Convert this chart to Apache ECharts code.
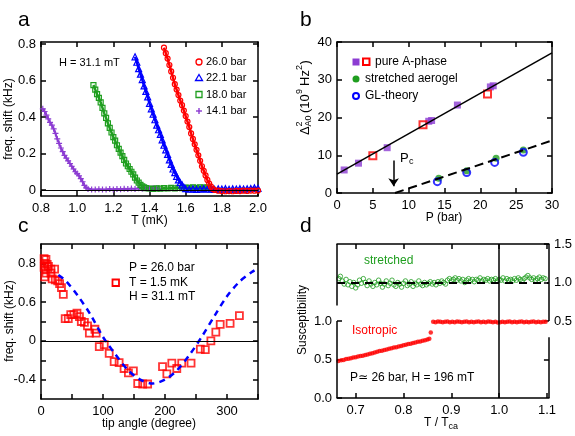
<!DOCTYPE html>
<html lang="en">
<head>
<meta charset="UTF-8">
<title>A-phase in aerogel</title>
<script src="https://cdn.jsdelivr.net/npm/echarts@6/dist/echarts.min.js"></script>
<style>
  html, body { margin: 0; padding: 0; background: #fff; }
  #main { width: 575px; height: 436px; }
</style>
</head>
<body>
<div id="main"></div>
<script>
var FONT = '"Liberation Sans", Arial, "DejaVu Sans", sans-serif';
var RED = '#ff0000', BLUE = '#0000ff', GREEN = '#1f9e1f', PURPLE = '#8c3cd2';
var NONE = 'rgba(0,0,0,0)';

// ---- panel a: freq. shift vs T ----
var aTicksX = [0.8, 1.0, 1.2, 1.4, 1.6, 1.8, 2.0];
var aTicksY = [0, 0.2, 0.4, 0.6, 0.8];
var aNames = ['26.0 bar', '22.1 bar', '18.0 bar', '14.1 bar'];
var a26 = [[1.48,0.78],[1.49,0.75],[1.50,0.72],[1.51,0.685],[1.52,0.65],[1.53,0.615],[1.54,0.58],[1.55,0.55],[1.56,0.52],[1.57,0.49],[1.58,0.465],[1.59,0.435],[1.60,0.405],[1.61,0.375],[1.62,0.345],[1.63,0.31],[1.64,0.28],[1.65,0.25],[1.66,0.22],[1.67,0.19],[1.68,0.16],[1.69,0.13],[1.70,0.105],[1.71,0.08],[1.72,0.055],[1.73,0.035],[1.74,0.018],[1.75,0.006],[1.76,0.0],[1.78,-0.004],[1.80,-0.006],[1.82,-0.007],[1.84,-0.006],[1.86,-0.007],[1.88,-0.005],[1.90,-0.006],[1.92,-0.004],[1.94,-0.005],[1.96,-0.003],[1.98,-0.004],[2.0,-0.003]];
var a22 = [[1.32,0.73],[1.33,0.70],[1.34,0.665],[1.35,0.635],[1.36,0.605],[1.37,0.57],[1.38,0.54],[1.39,0.51],[1.40,0.475],[1.41,0.445],[1.42,0.415],[1.43,0.385],[1.44,0.355],[1.45,0.33],[1.46,0.305],[1.47,0.275],[1.48,0.245],[1.49,0.22],[1.50,0.195],[1.51,0.165],[1.52,0.14],[1.53,0.115],[1.54,0.095],[1.55,0.075],[1.56,0.055],[1.57,0.04],[1.58,0.028],[1.59,0.015],[1.60,0.007],[1.62,0.004],[1.64,0.006],[1.66,0.003],[1.68,0.005],[1.70,0.007],[1.72,0.004],[1.74,0.006],[1.76,0.003],[1.78,0.006],[1.80,0.005],[1.82,0.007],[1.84,0.004],[1.86,0.006],[1.88,0.005],[1.90,0.007],[1.92,0.005],[1.94,0.006],[1.96,0.008],[1.98,0.012],[2.0,0.009]];
var a18 = [[1.09,0.575],[1.10,0.55],[1.11,0.525],[1.12,0.505],[1.13,0.48],[1.14,0.45],[1.15,0.42],[1.16,0.395],[1.17,0.365],[1.18,0.34],[1.19,0.315],[1.20,0.29],[1.21,0.27],[1.22,0.245],[1.23,0.225],[1.24,0.205],[1.25,0.185],[1.26,0.165],[1.27,0.145],[1.28,0.13],[1.29,0.115],[1.30,0.1],[1.31,0.085],[1.32,0.068],[1.33,0.052],[1.34,0.04],[1.35,0.028],[1.36,0.02],[1.37,0.014],[1.38,0.01],[1.40,0.008],[1.42,0.006],[1.44,0.009],[1.46,0.007],[1.48,0.01],[1.50,0.008],[1.52,0.011],[1.54,0.009],[1.56,0.012],[1.58,0.01],[1.60,0.013],[1.62,0.011],[1.64,0.014],[1.66,0.012],[1.68,0.015],[1.70,0.013],[1.72,0.014]];
var a14 = [[0.81,0.445],[0.82,0.43],[0.83,0.41],[0.84,0.39],[0.85,0.37],[0.86,0.355],[0.87,0.335],[0.88,0.31],[0.89,0.28],[0.90,0.255],[0.91,0.23],[0.92,0.21],[0.93,0.19],[0.94,0.175],[0.95,0.16],[0.96,0.145],[0.97,0.13],[0.98,0.115],[0.99,0.1],[1.00,0.09],[1.01,0.078],[1.02,0.062],[1.03,0.045],[1.04,0.025],[1.05,0.012],[1.06,0.006],[1.08,0.003],[1.10,0.002],[1.12,0.004],[1.14,0.002],[1.16,0.003],[1.18,0.005],[1.20,0.003],[1.22,0.006],[1.24,0.004],[1.26,0.007],[1.28,0.005],[1.30,0.008],[1.32,0.006],[1.34,0.009],[1.36,0.007],[1.38,0.01],[1.40,0.008],[1.42,0.011],[1.44,0.009],[1.45,0.008]];

// ---- panel b: gap^2 vs pressure ----
var bTicksX = [0, 5, 10, 15, 20, 25, 30];
var bTicksY = [0, 10, 20, 30, 40];
var bPureFilled = [[1.0,6.1],[3.0,7.9],[7.0,12.0],[12.8,19.0],[13.2,19.2],[16.8,23.3],[21.4,28.1],[21.8,28.4]];
var bPureOpen = [[5.0,9.9],[12.0,18.1],[21.0,26.2]];
var bStretched = [[14.2,3.9],[18.1,5.9],[22.2,9.2],[26.0,11.4]];
var bGL = [[14.0,3.0],[18.1,5.4],[22.0,8.1],[26.0,10.8]];
var bFitPure = [[0,5.0],[30,37.1]];
var bFitStretched = [[8.1,0],[30,13.9]];
var bPc = 7.9;

// ---- panel c: freq. shift vs tip angle ----
var cTicksX = [0, 50, 100, 150, 200, 250, 300, 350];
var cLabelsX = [0, 100, 200, 300];
var cTicksY = [-0.4, -0.2, 0, 0.2, 0.4, 0.6, 0.8];
var cLabelsY = [-0.4, 0, 0.4, 0.8];
var cLabelText = { '-0.4': '-0.4', '0.0': '0', '0.4': '0.6', '0.8': '0.8' };
var cData = [[5,0.85],[8,0.84],[6,0.80],[10,0.79],[5,0.76],[12,0.77],[7,0.74],[16,0.74],[22,0.74],[8,0.70],[16,0.70],[6,0.66],[18,0.64],[23,0.63],[27,0.62],[30,0.59],[33,0.55],[36,0.48],
  [39,0.23],[44,0.23],[48,0.27],[53,0.27],[58,0.285],[62,0.25],[65,0.20],[70,0.19],[75,0.155],[78,0.08],[87,0.12],[89,0.08],[94,-0.06],[102,-0.04],[110,-0.13],[118,-0.215],[126,-0.225],[134,-0.285],[141,-0.33],[149,-0.31],[156,-0.44],[164,-0.445],[172,-0.445],
  [196,-0.265],[203,-0.34],[211,-0.23],[219,-0.285],[227,-0.23],[242,-0.23],[257,-0.085],[265,-0.09],[274,0.0],[282,0.09],[289,0.17],[305,0.18],[320,0.26]];
var cTheory = [[28,0.68],[40,0.62],[60,0.46],[80,0.27],[100,0.04],[120,-0.14],[140,-0.30],[160,-0.40],[180,-0.44],[200,-0.40],[220,-0.30],[240,-0.14],[260,0.05],[280,0.26],[300,0.46],[320,0.61],[340,0.71],[350,0.75]];

// ---- panel d: susceptibility vs T/Tca ----
var dXMin = 0.661, dXMax = 1.104;
var dTicksX = [0.7, 0.8, 0.9, 1.0, 1.1];
var dTicksL = [0, 0.5, 1.0];
var dTicksR = [0, 0.5, 1.0, 1.5];
var dLabelsR = [0.5, 1.0, 1.5];
var dIsoRamp = [[0.664,0.48],[0.67,0.49],[0.675,0.495],[0.68,0.505],[0.685,0.51],[0.69,0.515],[0.695,0.525],[0.70,0.53],[0.705,0.54],[0.71,0.545],[0.715,0.55],[0.72,0.56],[0.725,0.565],[0.73,0.575],[0.735,0.58],[0.74,0.59],[0.745,0.60],[0.75,0.61],[0.755,0.615],[0.76,0.625],[0.765,0.63],[0.77,0.64],[0.775,0.645],[0.78,0.655],[0.785,0.66],[0.79,0.67],[0.795,0.675],[0.80,0.685],[0.805,0.69],[0.81,0.70],[0.815,0.705],[0.82,0.715],[0.825,0.72],[0.83,0.73],[0.835,0.735],[0.84,0.745],[0.845,0.75],[0.85,0.76],[0.854,0.77],[0.857,0.85]];
var dIsoFlat = [[0.862,0.99],[0.867,0.985],[0.872,0.995],[0.877,0.99],[0.882,0.985],[0.887,0.99],[0.892,0.995],[0.897,0.985],[0.902,0.99],[0.907,0.985],[0.912,0.995],[0.917,0.99],[0.922,0.985],[0.927,0.99],[0.932,0.995],[0.937,0.985],[0.942,0.99],[0.947,0.985],[0.952,0.99],[0.957,0.995],[0.962,0.985],[0.967,0.99],[0.972,0.985],[0.977,0.995],[0.982,0.99],[0.987,0.985],[0.992,0.99],[0.997,0.98],[1.002,0.985],[1.007,0.99],[1.012,0.985],[1.017,0.99],[1.022,0.995],[1.027,0.985],[1.032,0.99],[1.037,0.985],[1.042,0.99],[1.047,0.995],[1.052,0.985],[1.057,0.99],[1.062,0.985],[1.067,0.99],[1.072,0.995],[1.077,0.985],[1.082,0.99],[1.087,0.985],[1.092,0.99],[1.097,0.99]];
var dStretched = [[0.665,1.05],[0.668,1.08],[0.672,1.02],[0.676,0.98],[0.68,1.04],[0.684,0.97],[0.688,1.01],[0.692,0.95],[0.696,1.0],[0.70,0.93],[0.704,0.97],[0.708,1.03],[0.712,0.99],[0.716,1.05],[0.72,1.0],[0.724,0.96],[0.728,1.02],[0.732,0.98],[0.736,0.95],[0.74,1.0],[0.744,0.97],[0.748,1.03],[0.752,0.99],[0.756,0.94],[0.76,0.98],[0.764,1.02],[0.768,0.96],[0.772,0.99],[0.776,1.03],[0.78,0.97],[0.784,0.95],[0.788,1.0],[0.792,0.98],[0.796,0.94],[0.80,0.99],[0.804,1.02],[0.808,0.96],[0.812,0.98],[0.816,1.01],[0.82,0.95],[0.824,0.99],[0.828,0.97],[0.832,1.02],[0.836,0.98],[0.84,0.96],[0.844,1.0],[0.848,0.97],[0.852,0.99],[0.856,1.01],[0.86,0.98],[0.864,1.0],[0.868,0.97],[0.872,1.01],[0.876,0.99],[0.88,1.02],[0.884,1.0],[0.888,0.98],[0.892,1.03],[0.896,1.05],[0.90,1.02],[0.904,1.04],[0.908,1.06],[0.912,1.03],[0.916,1.05],[0.92,1.02],[0.924,1.04],[0.928,1.0],[0.932,1.03],[0.936,1.05],[0.94,1.02],[0.944,1.04],[0.948,1.01],[0.952,1.04],[0.956,1.03],[0.96,1.06],[0.964,1.02],[0.968,1.04],[0.972,1.03],[0.976,1.05],[0.98,1.02],[0.984,1.04],[0.988,1.03],[0.992,1.05],[0.996,1.02],[1.0,1.04],[1.004,1.03],[1.008,1.06],[1.012,1.02],[1.016,1.05],[1.02,1.03],[1.024,1.04],[1.028,1.02],[1.032,1.05],[1.036,1.03],[1.04,1.06],[1.044,1.04],[1.048,1.02],[1.052,1.05],[1.056,1.07],[1.06,1.09],[1.064,1.06],[1.068,1.04],[1.072,1.06],[1.076,1.03],[1.08,1.05],[1.084,1.07],[1.088,1.04],[1.092,1.06],[1.096,1.05]];

var PLUS = 'path://M4,0L6,0L6,4L10,4L10,6L6,6L6,10L4,10L4,6L0,6L0,4L4,4Z';

// one value axis; labels == null hides the labels
function axis(grid, pos, min, max, ticks, labels, fmt, hideLine) {
  var ax = {
    type: 'value', gridIndex: grid, position: pos, min: min, max: max,
    axisLine: { show: !hideLine, onZero: false, lineStyle: { color: '#000', width: 1.5 } },
    axisTick: { show: true, inside: true, length: 5, customValues: ticks, lineStyle: { color: '#000', width: 1.5 } },
    axisLabel: { show: false },
    splitLine: { show: false }
  };
  if (labels) {
    ax.axisLabel = { show: true, customValues: labels, formatter: fmt, color: '#000',
      fontSize: 13, fontFamily: FONT, margin: (pos === 'left' || pos === 'right') ? 5 : 6 };
  }
  return ax;
}
function f1(v) { return v.toFixed(1); }
function fInt(v) { return String(Math.round(v)); }
function fA(v) { return Math.abs(v) < 1e-9 ? '0' : v.toFixed(1); }
function fC(v) { return cLabelText[v.toFixed(1)] || ''; }

function txt(x, y, s, opt) {
  opt = opt || {};
  return { type: 'text', x: x, y: y, rotation: opt.rot || 0, silent: true,
    style: { text: s, fontSize: opt.size || 12, fontFamily: FONT, fill: opt.color || '#000',
      align: opt.align || 'left', verticalAlign: 'middle' } };
}
function hollow(color, w) {
  return { color: NONE, borderColor: color, borderWidth: w };
}
var noLabel = { show: false };

var myChart = echarts.init(document.getElementById('main'), null, { renderer: 'canvas' });

var option = {
  animation: false,
  backgroundColor: '#fff',
  grid: [
    { left: 41, top: 42, width: 217, height: 154 },
    { left: 337, top: 42, width: 215, height: 151 },
    { left: 41, top: 244, width: 217, height: 155 },
    { left: 337, top: 244, width: 215, height: 154 }
  ],
  xAxis: [
    axis(0, 'bottom', 0.8, 2.0, aTicksX, aTicksX, f1),
    axis(0, 'top', 0.8, 2.0, aTicksX, null),
    axis(1, 'bottom', 0, 30, bTicksX, bTicksX, fInt),
    axis(1, 'top', 0, 30, bTicksX, null),
    axis(2, 'bottom', 0, 350, cTicksX, cLabelsX, fInt),
    axis(2, 'top', 0, 350, cTicksX, null),
    axis(3, 'bottom', dXMin, dXMax, dTicksX, dTicksX, f1),
    axis(3, 'top', dXMin, dXMax, dTicksX, null)
  ],
  yAxis: [
    axis(0, 'left', -0.033, 0.811, aTicksY, aTicksY, fA),
    axis(0, 'right', -0.033, 0.811, aTicksY, null),
    axis(1, 'left', 0, 40, bTicksY, bTicksY, fInt),
    axis(1, 'right', 0, 40, bTicksY, null),
    axis(2, 'left', -0.6, 1.0, cTicksY, cLabelsY, fC),
    axis(2, 'right', -0.6, 1.0, cTicksY, null),
    axis(3, 'left', 0, 2.0, dTicksL, dTicksL, f1, true),
    axis(3, 'right', -0.5, 1.5, dTicksR, dLabelsR, f1, true)
  ],
  series: [
    // panel a
    { name: aNames[3], type: 'line', xAxisIndex: 0, yAxisIndex: 0, data: a14, symbol: PLUS, symbolSize: 6,
      itemStyle: { color: PURPLE }, lineStyle: { color: PURPLE, width: 2 },
      markLine: { silent: true, symbol: ['none', 'none'], label: noLabel,
        lineStyle: { color: '#000', width: 1, type: 'solid' }, data: [{ yAxis: 0 }] } },
    { name: aNames[2], type: 'line', xAxisIndex: 0, yAxisIndex: 0, data: a18, symbol: 'rect', symbolSize: 5,
      itemStyle: hollow(GREEN, 1.2), lineStyle: { color: GREEN, width: 2.5 } },
    { name: aNames[1], type: 'line', xAxisIndex: 0, yAxisIndex: 0, data: a22, symbol: 'triangle', symbolSize: 6,
      itemStyle: hollow(BLUE, 1.2), lineStyle: { color: BLUE, width: 2.5 } },
    { name: aNames[0], type: 'line', xAxisIndex: 0, yAxisIndex: 0, data: a26, symbol: 'circle', symbolSize: 5,
      itemStyle: hollow(RED, 1.2), lineStyle: { color: RED, width: 2.5 } },

    // panel b
    { type: 'line', xAxisIndex: 2, yAxisIndex: 2, data: bFitPure, showSymbol: false,
      lineStyle: { color: '#000', width: 1.5 } },
    { type: 'line', xAxisIndex: 2, yAxisIndex: 2, data: bFitStretched, showSymbol: false,
      lineStyle: { color: '#000', width: 2, type: [9, 5] },
      markLine: { silent: true, symbol: ['none', 'arrow'], symbolSize: 8, label: noLabel,
        lineStyle: { color: '#000', width: 1.5, type: 'solid' },
        data: [[{ coord: [bPc, 8.6] }, { coord: [bPc, 1.8] }]] } },
    { type: 'scatter', xAxisIndex: 2, yAxisIndex: 2, data: bPureFilled, symbol: 'rect', symbolSize: 7,
      itemStyle: { color: PURPLE } },
    { type: 'scatter', xAxisIndex: 2, yAxisIndex: 2, data: bPureOpen, symbol: 'rect', symbolSize: 7,
      itemStyle: hollow(RED, 2) },
    { type: 'scatter', xAxisIndex: 2, yAxisIndex: 2, data: bStretched, symbol: 'circle', symbolSize: 7,
      itemStyle: { color: GREEN } },
    { type: 'scatter', xAxisIndex: 2, yAxisIndex: 2, data: bGL, symbol: 'circle', symbolSize: 7,
      itemStyle: hollow(BLUE, 2) },

    // panel c
    { type: 'line', xAxisIndex: 4, yAxisIndex: 4, data: cTheory, showSymbol: false, smooth: 0.3,
      lineStyle: { color: BLUE, width: 2.5, type: [6, 5] },
      markLine: { silent: true, symbol: ['none', 'none'], label: noLabel,
        lineStyle: { color: '#000', width: 1, type: 'solid' }, data: [{ yAxis: 0 }] } },
    { type: 'scatter', xAxisIndex: 4, yAxisIndex: 4, data: cData, symbol: 'rect', symbolSize: 7,
      itemStyle: hollow(RED, 1.8) },

    // panel d
    { type: 'scatter', xAxisIndex: 6, yAxisIndex: 7, data: dStretched, symbol: 'circle', symbolSize: 4.5,
      itemStyle: hollow(GREEN, 1), clip: false,
      markLine: { silent: true, symbol: ['none', 'none'], label: noLabel,
        lineStyle: { color: '#000', width: 1.5, type: 'solid' },
        data: [
          { yAxis: 1.0, lineStyle: { color: '#000', width: 2, type: [8, 6] } },
          [{ coord: [dXMax, -0.5] }, { coord: [dXMax, 0.29] }],
          [{ coord: [dXMax, 0.5] }, { coord: [dXMax, 1.5] }]
        ] } },
    { type: 'scatter', xAxisIndex: 6, yAxisIndex: 6, data: dIsoRamp, symbol: 'circle', symbolSize: 4.5,
      itemStyle: { color: RED }, clip: false,
      markLine: { silent: true, symbol: ['none', 'none'], label: noLabel,
        lineStyle: { color: '#000', width: 1.5, type: 'solid' },
        data: [
          { xAxis: 1.0 },
          [{ coord: [dXMin, 0] }, { coord: [dXMin, 1.0] }],
          [{ coord: [dXMin, 1.2] }, { coord: [dXMin, 2.0] }]
        ] } },
    { type: 'scatter', xAxisIndex: 6, yAxisIndex: 6, data: dIsoFlat, symbol: 'circle', symbolSize: 4.5,
      itemStyle: { color: RED } }
  ],
  graphic: [
    // panel letters
    txt(18, 20, 'a', { size: 21 }),
    txt(300, 20, 'b', { size: 21 }),
    txt(18, 226, 'c', { size: 21 }),
    txt(300, 226, 'd', { size: 21 }),

    // panel a texts
    txt(9, 119, 'freq. shift (kHz)', { rot: Math.PI / 2, align: 'center', size: 12 }),
    txt(149.5, 221, 'T (mK)', { align: 'center', size: 12 }),
    txt(59, 63, 'H = 31.1 mT', { size: 11 }),
    { type: 'circle', shape: { cx: 199, cy: 62, r: 3 }, style: { fill: NONE, stroke: RED, lineWidth: 1.3 }, silent: true },
    { type: 'polygon', shape: { points: [[199, 74.5], [202.5, 80.5], [195.5, 80.5]] }, style: { fill: NONE, stroke: BLUE, lineWidth: 1.3 }, silent: true },
    { type: 'rect', shape: { x: 196, y: 91.5, width: 6, height: 6 }, style: { fill: NONE, stroke: GREEN, lineWidth: 1.3 }, silent: true },
    { type: 'rect', shape: { x: 198.3, y: 108, width: 1.4, height: 6 }, style: { fill: PURPLE }, silent: true },
    { type: 'rect', shape: { x: 196, y: 110.3, width: 6, height: 1.4 }, style: { fill: PURPLE }, silent: true },
    txt(206, 62, aNames[0], { size: 11 }),
    txt(206, 78, aNames[1], { size: 11 }),
    txt(206, 94.5, aNames[2], { size: 11 }),
    txt(206, 111, aNames[3], { size: 11 }),

    // panel b texts
    { type: 'group', x: 305, y: 135, rotation: Math.PI / 2, silent: true, children: [
      txt(0, 0, '\u0394', { size: 13 }),
      txt(8.5, -5, '2', { size: 9 }),
      txt(8.5, 4, 'A0', { size: 9 }),
      txt(22, 0, '(10', { size: 13 }),
      txt(41, -5, '9', { size: 9 }),
      txt(49, 0, 'Hz', { size: 13 }),
      txt(65, -5, '2', { size: 9 }),
      txt(70.5, 0, ')', { size: 13 })
    ] },
    txt(444, 218, 'P (bar)', { align: 'center', size: 12 }),
    txt(400, 158, 'P', { size: 13 }),
    txt(409, 162, 'c', { size: 9 }),
    { type: 'rect', shape: { x: 352.5, y: 58.5, width: 7, height: 7 }, style: { fill: PURPLE }, silent: true },
    { type: 'rect', shape: { x: 363, y: 58.5, width: 6.5, height: 6.5 }, style: { fill: NONE, stroke: RED, lineWidth: 2 }, silent: true },
    { type: 'circle', shape: { cx: 356, cy: 79, r: 3.5 }, style: { fill: GREEN }, silent: true },
    { type: 'circle', shape: { cx: 356, cy: 96, r: 3 }, style: { fill: NONE, stroke: BLUE, lineWidth: 2 }, silent: true },
    txt(375, 62, 'pure A-phase', { size: 12 }),
    txt(365, 79, 'stretched aerogel', { size: 12 }),
    txt(365, 96, 'GL-theory', { size: 12 }),

    // panel c texts
    txt(10, 321, 'freq. shift (kHz)', { rot: Math.PI / 2, align: 'center', size: 12 }),
    txt(149, 424, 'tip angle (degree)', { align: 'center', size: 12 }),
    txt(129, 268, 'P = 26.0 bar', { size: 12 }),
    txt(129, 283, 'T = 1.5 mK', { size: 12 }),
    txt(129, 297, 'H = 31.1 mT', { size: 12 }),
    { type: 'rect', shape: { x: 112.5, y: 279.5, width: 6.5, height: 6.5 }, style: { fill: NONE, stroke: RED, lineWidth: 1.8 }, silent: true },

    // panel d texts
    txt(303, 320, 'Susceptibility', { rot: Math.PI / 2, align: 'center', size: 12 }),
    txt(424, 423, 'T / T', { size: 12 }),
    txt(448.5, 427, 'ca', { size: 9 }),
    txt(364, 261, 'stretched', { size: 12, color: GREEN }),
    txt(352, 331, 'Isotropic', { size: 12, color: RED }),
    txt(350, 378, 'P\u2243 26 bar, H = 196 mT', { size: 12 })
  ]
};

myChart.setOption(option);
</script>
</body>
</html>
